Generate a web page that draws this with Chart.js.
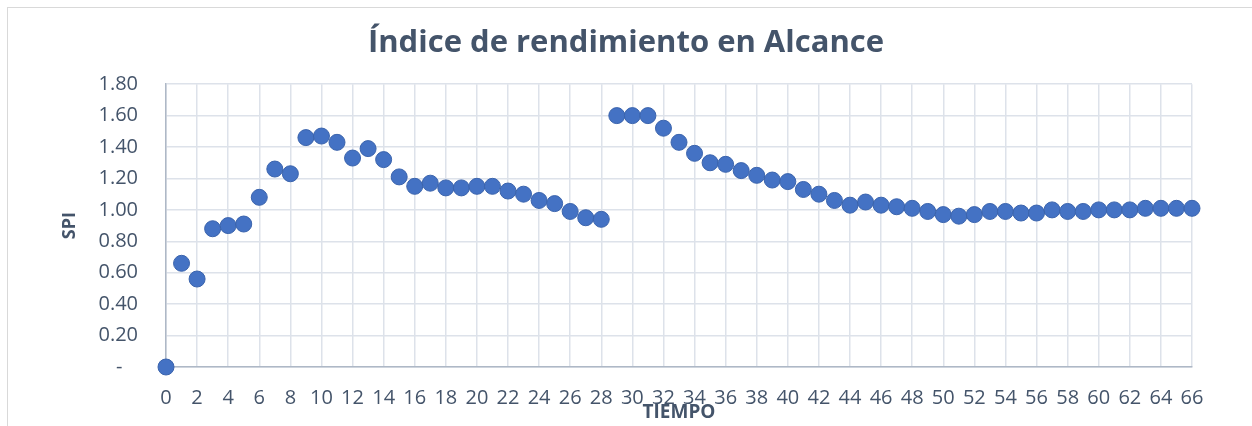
<!DOCTYPE html>
<html>
<head>
<meta charset="utf-8">
<script src="https://cdn.jsdelivr.net/npm/chart.js@4/dist/chart.umd.min.js"></script>
<style>
  html, body { margin: 0; padding: 0; background: #ffffff; }
  #wrap { width: 1252px; height: 426px; position: relative; }
</style>
</head>
<body>
<div id="wrap"><canvas id="c" width="1252" height="426"></canvas></div>
<script>
const chartTitle = 'Índice de rendimiento en Alcance';
const xTitle = 'TIEMPO';
const yTitle = 'SPI';
const tiempo = [0,1,2,3,4,5,6,7,8,9,10,11,12,13,14,15,16,17,18,19,20,21,22,23,24,25,26,27,28,29,30,31,32,33,34,35,36,37,38,39,40,41,42,43,44,45,46,47,48,49,50,51,52,53,54,55,56,57,58,59,60,61,62,63,64,65,66];
const spi = [0.00,0.66,0.56,0.88,0.90,0.91,1.08,1.26,1.23,1.46,1.47,1.43,1.33,1.39,1.32,1.21,1.15,1.17,1.14,1.14,1.15,1.15,1.12,1.10,1.06,1.04,0.99,0.95,0.94,1.60,1.60,1.60,1.52,1.43,1.36,1.30,1.29,1.25,1.22,1.19,1.18,1.13,1.10,1.06,1.03,1.05,1.03,1.02,1.01,0.99,0.97,0.96,0.97,0.99,0.99,0.98,0.98,1.00,0.99,0.99,1.00,1.00,1.00,1.01,1.01,1.01,1.01];

const textColor = '#44546A';
const gridColor = '#dde2ea';
const axisColor = '#aeb8c6';

const frame = {
  id: 'frame',
  beforeDraw(chart) {
    const ctx = chart.ctx;
    ctx.save();
    ctx.fillStyle = '#ffffff';
    ctx.fillRect(0, 0, chart.width, chart.height);
    ctx.strokeStyle = '#d9d9d9';
    ctx.lineWidth = 1;
    ctx.strokeRect(7.5, 7.5, 1400, 600);
    ctx.restore();
  }
};

new Chart(document.getElementById('c'), {
  type: 'scatter',
  data: {
    datasets: [{
      data: tiempo.map((t, i) => ({ x: t, y: spi[i] })),
      pointRadius: 8,
      pointHoverRadius: 8,
      pointBackgroundColor: '#4472C4',
      pointBorderColor: '#3b64ad',
      pointBorderWidth: 1,
      clip: false
    }]
  },
  plugins: [frame],
  options: {
    responsive: false,
    animation: false,
    events: [],
    layout: { padding: { left: 0, right: 0, top: 0, bottom: 0 } },
    plugins: {
      legend: { display: false },
      tooltip: { enabled: false },
      title: {
        display: true,
        text: chartTitle,
        color: textColor,
        font: { family: 'Open Sans', size: 31, weight: 'bold', lineHeight: 1.2 },
        padding: { top: 25, bottom: 22 }
      }
    },
    scales: {
      x: {
        type: 'linear',
        min: 0,
        max: 66,
        afterFit(s) { s.height = 59; },
        ticks: {
          stepSize: 2,
          color: textColor,
          font: { family: 'Open Sans', size: 20 },
          padding: 19,
          maxRotation: 0,
          autoSkip: false
        },
        grid: { color: gridColor, lineWidth: 1.5, drawTicks: false },
        border: { color: axisColor, width: 1.5 },
        title: {
          display: true,
          text: xTitle,
          color: textColor,
          font: { family: 'Open Sans', size: 19, weight: 'bold', lineHeight: 1.2 },
          padding: { top: 0, bottom: 2 }
        }
      },
      y: {
        min: 0,
        max: 1.8,
        afterFit(s) { s.width = 166; },
        ticks: {
          stepSize: 0.2,
          color: textColor,
          font: { family: 'Open Sans', size: 20 },
          padding: 28,
          callback: v => Math.abs(v) < 1e-9 ? '-   ' : v.toFixed(2)
        },
        grid: { color: gridColor, lineWidth: 1.5, drawTicks: false },
        border: { color: axisColor, width: 1.5 },
        title: {
          display: true,
          text: yTitle,
          color: textColor,
          font: { family: 'Open Sans', size: 18, weight: 'bold', lineHeight: 1.2 },
          padding: { top: 59, bottom: 0 }
        }
      },
      yr: {
        position: 'right',
        display: true,
        afterFit(s) { s.width = 60; },
        ticks: { display: false },
        grid: { display: false },
        border: { display: false }
      }
    }
  }
});
</script>
</body>
</html>
